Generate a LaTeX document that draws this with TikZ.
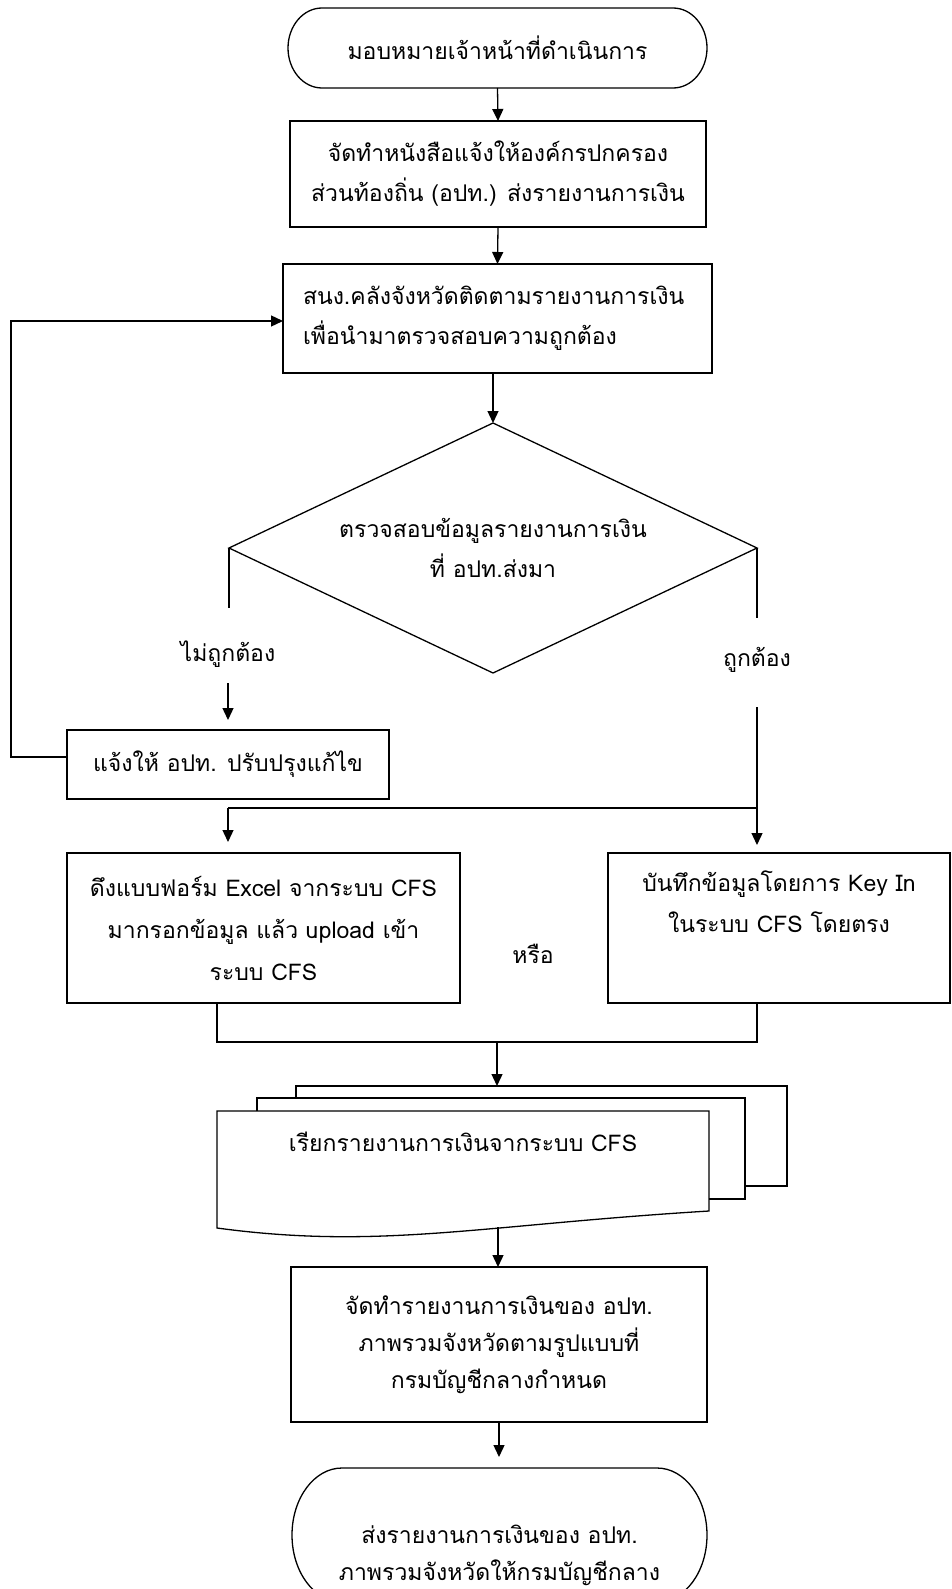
\documentclass[tikz,border=0pt]{standalone}
\usepackage{fontspec}
\newfontfamily\thai[Script=Thai]{Loma}
\usetikzlibrary{arrows.meta,calc}
\begin{document}
\begin{tikzpicture}[x=1pt,y=-1pt,
  every node/.style={font=\thai\fontsize{23}{40}\selectfont, inner sep=0pt, outer sep=0pt},
  ln/.style={line width=1.3pt},
  arr/.style={line width=1.3pt,-{Triangle[length=12pt,width=11pt]}},
  boxs/.style={draw,line width=1.3pt,align=center},
  ]
\useasboundingbox (0,0) rectangle (952,1589);
\clip (0,0) rectangle (952,1589);

% start terminator
\node[minimum width=419pt,minimum height=80pt] (start) at (497.5,48) {มอบหมายเจ้าหน้าที่ดำเนินการ};
\draw[ln] ([xshift=34pt]start.north west) -- ([xshift=-34pt]start.north east)
  arc[start angle=90,end angle=-90,x radius=34pt,y radius=40pt]
  -- ([xshift=34pt]start.south west)
  arc[start angle=270,end angle=90,x radius=34pt,y radius=40pt] -- cycle;

\node[boxs,minimum width=416pt,minimum height=106pt] (b2) at (498,174)
  {จัดทำหนังสือแจ้งให้องค์กรปกครอง\\ส่วนท้องถิ่น (อปท.) ส่งรายงานการเงิน};

\node[boxs,minimum width=429pt,minimum height=109pt,text width=389pt,align=left] (b3) at (497.5,318.5)
  {สนง.คลังจังหวัดติดตามรายงานการเงิน\\เพื่อนำมาตรวจสอบความถูกต้อง};

\node[minimum width=528pt,minimum height=250pt,align=center] (dec) at (493,548)
  {ตรวจสอบข้อมูลรายงานการเงิน\\ที่ อปท.ส่งมา};
\draw[ln] (dec.north) -- (dec.east) -- (dec.south) -- (dec.west) -- cycle;

\draw[arr] (start.south) -- (b2.north);
\draw[arr] (b2.south) -- (b3.north);
\draw[arr] (b3.south -| dec.north) -- (dec.north);

% no branch
\node (lno) at (228,654) {ไม่ถูกต้อง};
\coordinate (noend) at (229,608);
\coordinate (nofrom) at (228,683);
\coordinate (noto) at (228,720);
\draw[ln] (dec.west) -- (dec.west |- noend);
\draw[arr] (nofrom) -- (noto);

\node[boxs,minimum width=322pt,minimum height=69pt] (fix) at (228,764.5) {แจ้งให้ อปท. ปรับปรุงแก้ไข};
\draw[arr] ([yshift=7.5pt]fix.west) -- ++(-56pt,0) |- ([yshift=-2.5pt]b3.west);

% yes branch
\node (lyes) at (757,660) {ถูกต้อง};
\coordinate (yesend) at (757,618);
\coordinate (yesfrom) at (757,707);
\coordinate (yesto) at (757,845);
\draw[ln] (dec.east) -- (dec.east |- yesend);
\draw[arr] (yesfrom) -- (yesto);

\coordinate (jn) at (757,808);
\coordinate (jl) at (228,808);
\coordinate (jlto) at (228,842);
\draw[ln] (jn) -- (jl);
\draw[arr] (jl) -- (jlto);

\node[boxs,minimum width=393pt,minimum height=150pt,font=\thai\fontsize{23}{42}\selectfont] (lbox) at (263.5,928)
  {ดึงแบบฟอร์ม Excel จากระบบ CFS\\มากรอกข้อมูล แล้ว upload เข้า\\ระบบ CFS};
\node[boxs,minimum width=342pt,minimum height=150pt,font=\thai\fontsize{23}{41}\selectfont] (rbox) at (779,928)
  {บันทึกข้อมูลโดยการ Key In\\ในระบบ CFS โดยตรง\\\strut};
\node (or) at (533,954) {หรือ};

\coordinate (ml) at (217,1042);
\coordinate (mr) at (757,1042);
\coordinate (mc) at (497,1042);
\draw[ln] (lbox.south -| ml) -- (ml) -- (mr) -- (rbox.south -| mr);

% multi-document
\draw[ln] (296,1098) -- (296,1086) -- (787,1086) -- (787,1186) -- (745,1186);
\draw[ln] (257,1111) -- (257,1098) -- (745,1098) -- (745,1199) -- (709,1199);
\draw[ln] (217,1111) -- (709,1111) -- (709,1211) .. controls (480,1225) and (380,1250) .. (217,1228) -- cycle;
\node (doc) at (463,1142) {เรียกรายงานการเงินจากระบบ CFS};
\coordinate (docin) at (497,1086);
\coordinate (docout) at (498,1227);
\draw[arr] (mc) -- (docin);

\node[boxs,minimum width=416pt,minimum height=155pt,font=\thai\fontsize{23}{37}\selectfont] (b5) at (499,1344.5)
  {จัดทำรายงานการเงินของ อปท.\\ภาพรวมจังหวัดตามรูปแบบที่\\กรมบัญชีกลางกำหนด};
\draw[arr] (docout) -- (docout |- b5.north);

\coordinate (endtop) at (499,1457);
\draw[arr] (b5.south) -- (endtop);

% end terminator
\node[font=\thai\fontsize{23}{37}\selectfont,align=center] (endt) at (499.5,1555)
  {ส่งรายงานการเงินของ อปท.\\ภาพรวมจังหวัดให้กรมบัญชีกลาง};
\draw[ln] (342,1468) -- (657,1468)
  arc[start angle=90,end angle=-90,x radius=50pt,y radius=67pt]
  -- (342,1602)
  arc[start angle=270,end angle=90,x radius=50pt,y radius=67pt] -- cycle;
\end{tikzpicture}
\end{document}
